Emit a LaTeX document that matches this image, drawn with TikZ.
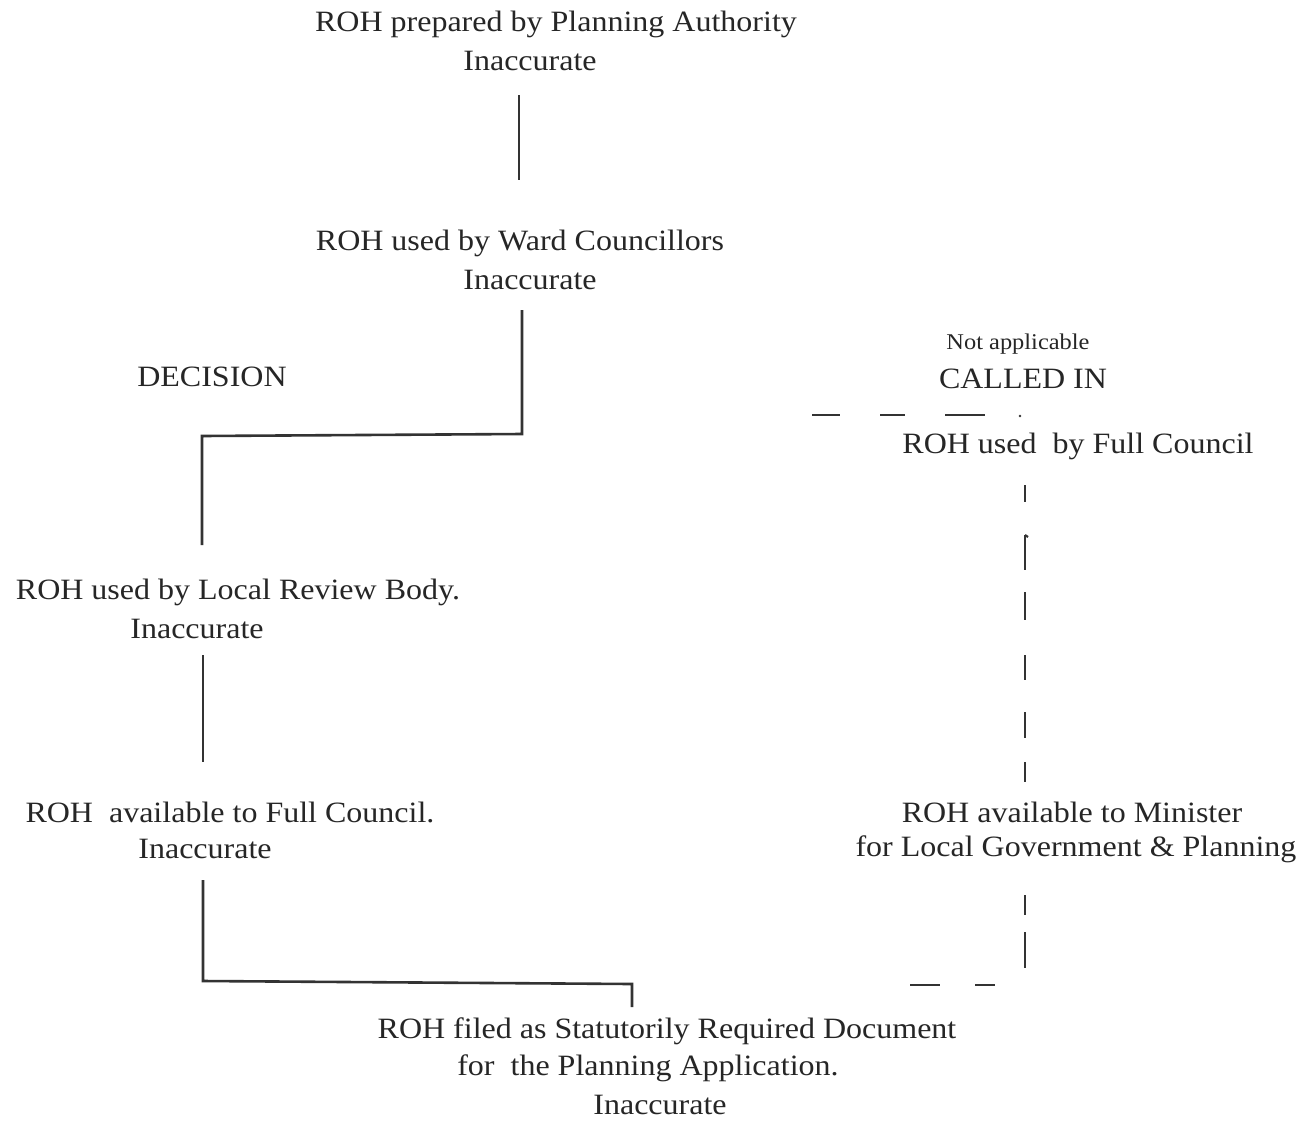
\documentclass[tikz,border=0pt]{standalone}
\usepackage{fontspec}
\setmainfont[FakeStretch=1.085]{Liberation Serif}
\begin{document}
\begin{tikzpicture}[x=1pt,y=-1pt,
  lbl/.style={inner sep=0pt, anchor=center, font=\fontsize{29.5}{32}\selectfont, text=black!85},
  small/.style={inner sep=0pt, anchor=center, font=\fontsize{22.5}{25}\selectfont, text=black!85},
  link/.style={line width=2.6pt, draw=black!80, line cap=butt},
  dlink/.style={line width=2.2pt, draw=black!80}]
\useasboundingbox[fill=white] (0,0) rectangle (1303,1122);
% texts
\node[lbl] (pa1) at (556,24) {ROH prepared by Planning Authority};
\node[lbl] (pa2) at (530,61) {Inaccurate};
\node[lbl] (wc1) at (520,243) {ROH used by Ward Councillors};
\node[lbl] (wc2) at (530,280) {Inaccurate};
\node[lbl] (dec) at (212,377) {DECISION};
\node[small] (na) at (1018,344) {Not applicable};
\node[lbl] (ci) at (1023,379) {CALLED IN};
\node[lbl] (fc) at (1078,446) {ROH used\ \ by Full Council};
\node[lbl] (lr1) at (238,592) {ROH used by Local Review Body.};
\node[lbl] (lr2) at (197,629) {Inaccurate};
\node[lbl] (af1) at (230,812) {ROH\ \ available to Full Council.};
\node[lbl] (af2) at (205,849) {Inaccurate};
\node[lbl] (mn1) at (1072,812) {ROH available to Minister};
\node[lbl] (mn2) at (1076,849) {for Local Government \& Planning};
\node[lbl] (fd1) at (667,1031) {ROH filed as Statutorily Required Document};
\node[lbl] (fd2) at (648,1068) {for\ \ the Planning Application.};
\node[lbl] (fd3) at (660,1105) {Inaccurate};
% connector coordinates
\coordinate (a1) at (519,95);
\coordinate (a2) at (519,180);
\coordinate (b1) at (522,310);
\coordinate (b2) at (522,434);
\coordinate (b3) at (202,436);
\coordinate (b4) at (202,545);
\coordinate (c1) at (203,655);
\coordinate (c2) at (203,762);
\coordinate (d1) at (203,880);
\coordinate (d2) at (203,981);
\coordinate (d3) at (632,984);
\coordinate (d4) at (632,1007);
% solid connectors
\draw[link] (a1) -- (a2);
\draw[link] (b1) -- (b2) -- (b3) -- (b4);
\draw[link] (c1) -- (c2);
\draw[link] (d1) -- (d2) -- (d3) -- (d4);
% dashed route: Called in
\coordinate (e1) at (812,415);
\coordinate (e2) at (840,415);
\coordinate (e3) at (880,415);
\coordinate (e4) at (905,415);
\coordinate (e5) at (945,415);
\coordinate (e6) at (985,415);
\draw[dlink] (e1) -- (e2);
\draw[dlink] (e3) -- (e4);
\draw[dlink] (e5) -- (e6);
\fill[black!80] (1020,416) circle (1.4);
% dashed route: full council to minister
\foreach \ya/\yb [count=\i] in {485/502, 535/570, 592/620, 655/680, 712/738, 762/782, 895/915, 932/968}{
  \coordinate (v\i a) at (1025,\ya);
  \coordinate (v\i b) at (1025,\yb);
  \draw[dlink] (v\i a) -- (v\i b);
}
\draw[dlink] (1025,535) -- (1028,537);
% dashed route to filed document
\coordinate (h1) at (910,985);
\coordinate (h2) at (940,985);
\coordinate (h3) at (975,985);
\coordinate (h4) at (995,985);
\draw[dlink] (h1) -- (h2);
\draw[dlink] (h3) -- (h4);
\end{tikzpicture}
\end{document}
